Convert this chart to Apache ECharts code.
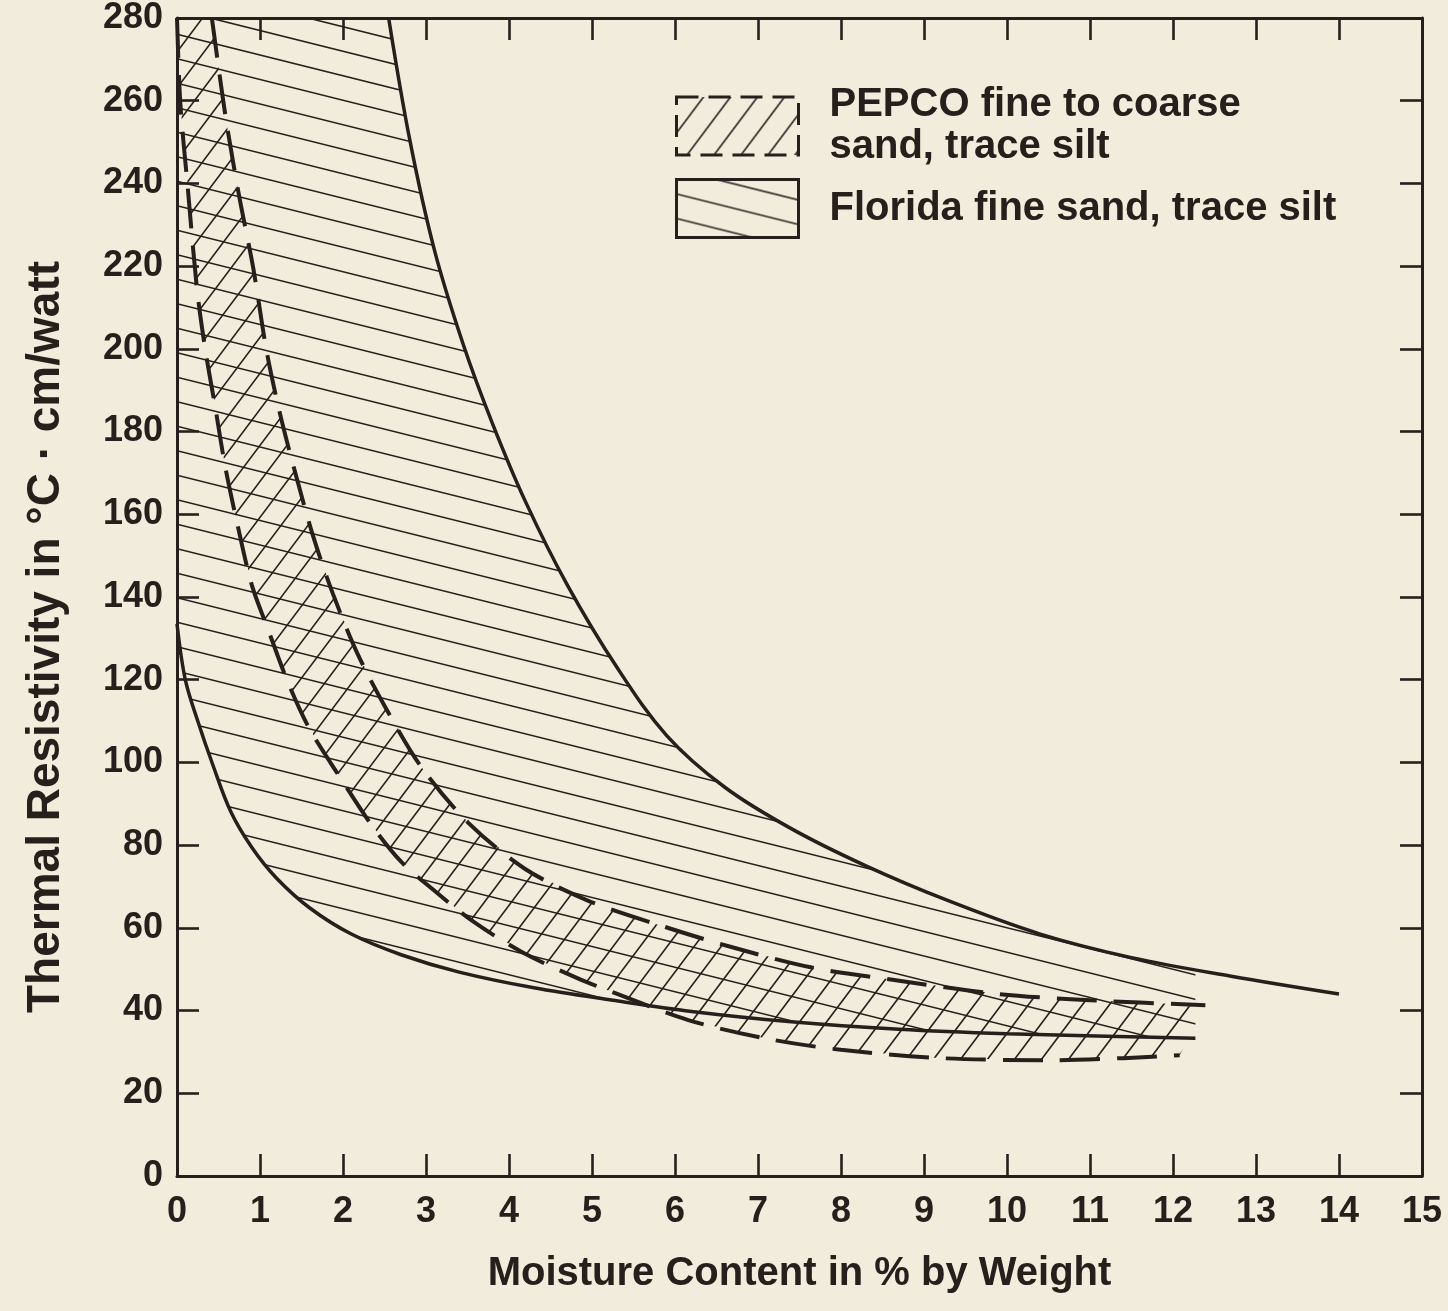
<!DOCTYPE html>
<html>
<head>
<meta charset="utf-8">
<script src="https://cdn.jsdelivr.net/npm/echarts@6/dist/echarts.min.js"></script>
<style>
html,body{margin:0;padding:0;background:#f1ecdb;}
#chart{width:1448px;height:1311px;}
</style>
</head>
<body>
<div id="chart"></div>
<script>
// ---------------- data ----------------
const xTicks = [0,1,2,3,4,5,6,7,8,9,10,11,12,13,14,15];
const yTicks = [0,20,40,60,80,100,120,140,160,180,200,220,240,260,280];

const xAxisName = 'Moisture Content in % by Weight';
const yAxisName = 'Thermal Resistivity in \u00B0C \u00B7 cm/watt';
const legendNames = ['PEPCO fine to coarse\nsand, trace silt', 'Florida fine sand, trace silt'];

// Florida fine sand (solid boundaries)
const floridaUpperX = [2.55, 2.8, 3.1, 3.45, 3.8, 4.2, 4.7, 5.3, 5.9, 6.6, 7.4, 8.3, 9.3, 10.4, 11.5, 12.7, 14.0];
const floridaUpperY = [280, 251, 224, 201, 182, 163, 143, 123, 106.5, 94, 84, 75, 66.5, 58.5, 52.8, 48.3, 44];
const floridaLowerX = [0, 0.1, 0.25, 0.43, 0.65, 0.9, 1.2, 1.6, 2.1, 2.7, 3.4, 4.3, 5.25, 6.2, 7.4, 8.7, 10.0, 11.2, 12.27];
const floridaLowerY = [133.5, 120, 110, 99.5, 88, 79.5, 72, 64.8, 58.5, 53.5, 49.3, 45.5, 42.5, 39.8, 37.3, 35.5, 34.4, 33.8, 33.3];

// PEPCO fine to coarse sand (dashed boundaries)
const pepcoUpperX = [0.42, 0.53, 0.61, 0.75, 0.92, 1.08, 1.24, 1.42, 1.64, 1.88, 2.17, 2.52, 2.95, 3.51, 4.19, 4.95, 5.82, 6.69, 7.65, 8.6, 9.9, 11.0, 12.39];
const pepcoUpperY = [280, 263.8, 253, 236.8, 219.4, 199.4, 184.4, 170.4, 154.7, 140.7, 126.5, 113, 98.7, 85.4, 74.3, 66.6, 60.6, 55.3, 50.4, 47.5, 44, 42.5, 41.3];
const pepcoLowerX = [0, 0.04, 0.13, 0.24, 0.34, 0.46, 0.58, 0.72, 0.9, 1.1, 1.34, 1.6, 1.99, 2.35, 2.7, 3.07, 3.55, 4.16, 4.83, 5.28, 6.16, 7.08, 8.0, 9.2, 10.55, 11.4, 12.08];
const pepcoLowerY = [280, 259.4, 238.9, 214.6, 199.9, 186, 171.6, 158.3, 143, 132, 119.2, 108, 95.6, 84.7, 76, 69.5, 61.8, 54.1, 47.8, 44.2, 37.7, 33.3, 30.5, 28.5, 28, 28.5, 29.2];

// ---------------- styling ----------------
const INK = '#25201c';
const BG = '#f1ecdb';
const FONT = '"Liberation Sans", Arial, Helvetica, sans-serif';

function zip(xs, ys){ return xs.map((x,i)=>[x, ys[i]]); }

function makePattern(kind){
  const c = document.createElement('canvas');
  c.width = 1448; c.height = 1311;
  const g = c.getContext('2d');
  g.strokeStyle = INK; g.lineWidth = 1.6; g.lineCap = 'butt';
  g.beginPath();
  if (kind === 'florida') {
    const s = 0.25, gap = 24.5;
    for (let b = -500; b < 1700; b += gap) { g.moveTo(0, b); g.lineTo(1448, b + s * 1448); }
  } else {
    const s = 4/3, gap = 27;
    for (let b = 0; b < 1311 + s * 1448 + 50; b += gap * s) { g.moveTo(0, b); g.lineTo(1448, b - s * 1448); }
  }
  g.stroke();
  return { image: c, repeat: 'no-repeat' };
}
const floridaPattern = makePattern('florida');
const pepcoPattern = makePattern('pepco');

function interpY(xs, ys, x){
  for (let i = 1; i < xs.length; i++) {
    if (xs[i] >= x) { const t = (x - xs[i-1]) / (xs[i] - xs[i-1]); return ys[i-1] + t * (ys[i] - ys[i-1]); }
  }
  return ys[ys.length-1];
}

function floridaShape(params, api){
  if (params.dataIndex > 0) return null;
  const xMin = xTicks[0], yMax = yTicks[yTicks.length-1];
  const cutX = floridaLowerX[floridaLowerX.length-1];
  const pts = [api.coord([xMin, yMax])];
  for (let i = 0; i < floridaUpperX.length; i++) {
    if (floridaUpperX[i] < cutX) pts.push(api.coord([floridaUpperX[i], floridaUpperY[i]]));
  }
  pts.push(api.coord([cutX, interpY(floridaUpperX, floridaUpperY, cutX)]));
  for (let i = floridaLowerX.length-1; i >= 0; i--) pts.push(api.coord([floridaLowerX[i], floridaLowerY[i]]));
  return { type: 'polygon', shape: { points: pts, smooth: 0 }, style: { fill: floridaPattern, stroke: null } };
}

function pepcoShape(params, api){
  if (params.dataIndex > 0) return null;
  const pts = [];
  for (let i = 0; i < pepcoUpperX.length; i++) pts.push(api.coord([pepcoUpperX[i], pepcoUpperY[i]]));
  for (let i = pepcoLowerX.length-1; i >= 0; i--) pts.push(api.coord([pepcoLowerX[i], pepcoLowerY[i]]));
  return { type: 'polygon', shape: { points: pts }, style: { fill: pepcoPattern, stroke: null } };
}

const axisLineStyle = { show: true, onZero: false, lineStyle: { color: INK, width: 3 } };
const tickStyle = { show: true, inside: true, length: 22, lineStyle: { color: INK, width: 2.6 } };
const labelStyle = { fontSize: 36, fontWeight: 'bold', color: INK, fontFamily: FONT };

const chart = echarts.init(document.getElementById('chart'), null, { renderer: 'canvas' });
chart.setOption({
  backgroundColor: BG,
  animation: false,
  grid: { left: 177, right: 26, top: 16, bottom: 135, containLabel: false },
  legend: {
    orient: 'vertical', left: 675, top: 84, padding: 0,
    itemWidth: 122, itemHeight: 58, itemGap: 10,
    selectedMode: false,
    textStyle: { fontSize: 40, fontWeight: 'bold', color: INK, fontFamily: FONT, lineHeight: 42, padding: [0, 0, 0, 26] },
    data: [
      { name: legendNames[0], icon: 'rect', itemStyle: { color: pepcoPattern, borderColor: INK, borderWidth: 3, borderType: [22, 10] } },
      { name: legendNames[1], icon: 'rect', itemStyle: { color: floridaPattern, borderColor: INK, borderWidth: 3 } }
    ]
  },
  xAxis: [
    { type: 'value', min: xTicks[0], max: xTicks[xTicks.length-1], interval: 1, position: 'bottom',
      axisLine: axisLineStyle, axisTick: tickStyle, splitLine: { show: false },
      axisLabel: Object.assign({ margin: 18 }, labelStyle),
      name: xAxisName, nameLocation: 'middle', nameGap: 78,
      nameTextStyle: { fontSize: 40, fontWeight: 'bold', color: INK, fontFamily: FONT } },
    { type: 'value', min: xTicks[0], max: xTicks[xTicks.length-1], interval: 1, position: 'top',
      axisLine: axisLineStyle, axisTick: tickStyle, splitLine: { show: false }, axisLabel: { show: false } }
  ],
  yAxis: [
    { type: 'value', min: yTicks[0], max: yTicks[yTicks.length-1], interval: 20, position: 'left',
      axisLine: axisLineStyle, axisTick: tickStyle, splitLine: { show: false },
      axisLabel: Object.assign({ margin: 14 }, labelStyle),
      name: yAxisName, nameLocation: 'middle', nameGap: 108,
      nameTextStyle: { fontSize: 46, fontWeight: 'bold', color: INK, fontFamily: FONT, padding: [0, 80, 0, 0] } },
    { type: 'value', min: yTicks[0], max: yTicks[yTicks.length-1], interval: 20, position: 'right',
      axisLine: axisLineStyle, axisTick: tickStyle, splitLine: { show: false }, axisLabel: { show: false } }
  ],
  series: [
    { name: legendNames[1], type: 'custom', renderItem: floridaShape, data: [[0, 0]], clip: true, z: 1,
      itemStyle: { color: floridaPattern }, silent: true },
    { name: legendNames[0], type: 'custom', renderItem: pepcoShape, data: [[0, 0]], clip: true, z: 2,
      itemStyle: { color: pepcoPattern }, silent: true },
    { name: 'Florida upper', type: 'line', data: zip(floridaUpperX, floridaUpperY), smooth: 0.35, showSymbol: false,
      lineStyle: { color: INK, width: 3.5 }, z: 3, silent: true },
    { name: 'Florida lower', type: 'line', data: zip(floridaLowerX, floridaLowerY), smooth: 0.35, showSymbol: false,
      lineStyle: { color: INK, width: 3.5 }, z: 3, silent: true },
    { name: 'PEPCO upper', type: 'line', data: zip(pepcoUpperX, pepcoUpperY), smooth: 0.3, showSymbol: false,
      lineStyle: { color: INK, width: 4, type: [40, 17] }, z: 3, silent: true },
    { name: 'PEPCO lower', type: 'line', data: zip(pepcoLowerX, pepcoLowerY), smooth: 0.3, showSymbol: false,
      lineStyle: { color: INK, width: 4, type: [40, 17] }, z: 3, silent: true }
  ]
});
</script>
</body>
</html>
